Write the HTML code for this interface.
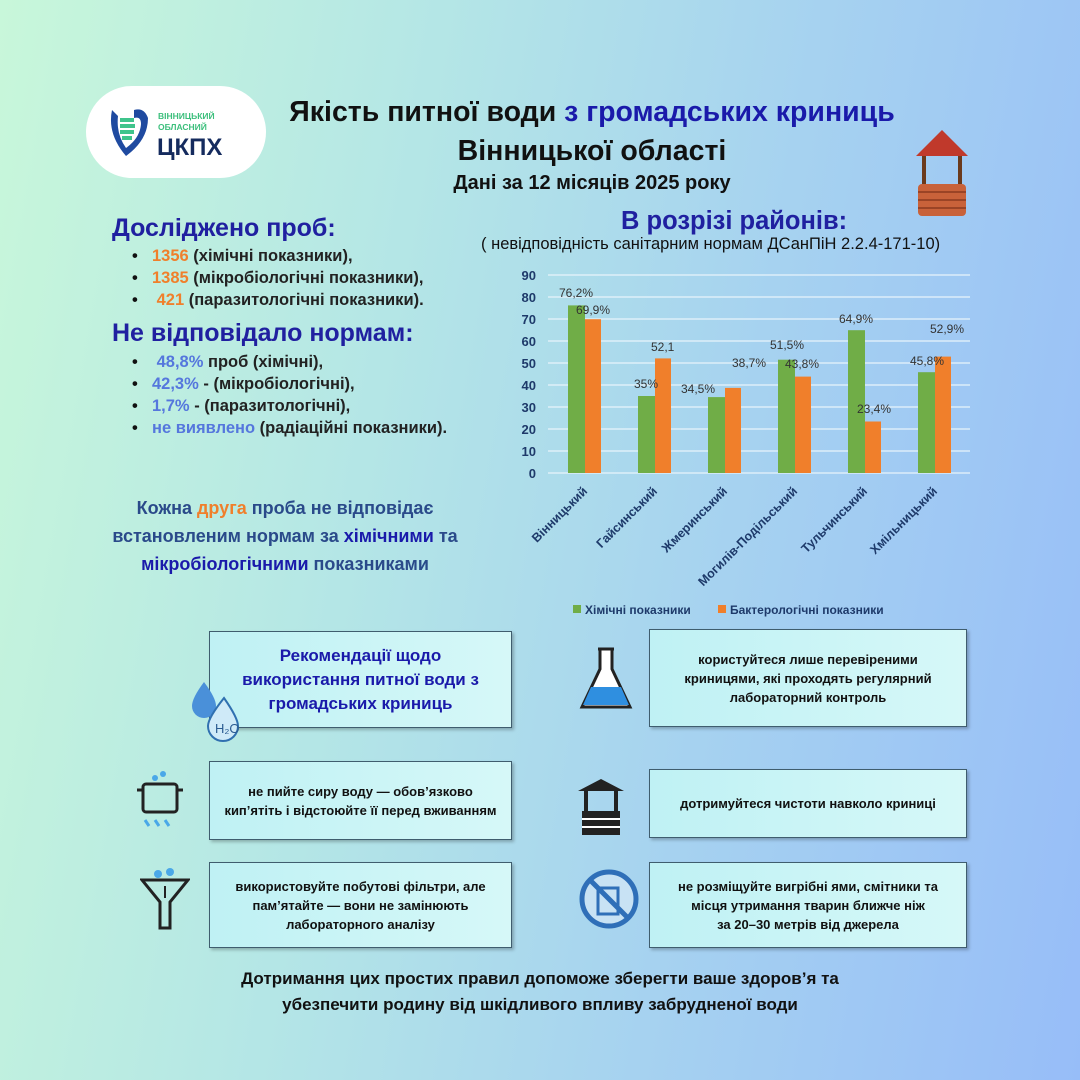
<!DOCTYPE html>
<html><head><meta charset="utf-8"><style>
*{margin:0;padding:0;box-sizing:border-box}
body{width:1080px;height:1080px;overflow:hidden;font-family:"Liberation Sans","DejaVu Sans",sans-serif;background:linear-gradient(100deg,#c8f7da 0%,#b4e6e6 35%,#a6d2f0 65%,#97bdf8 100%);position:relative}
.a{position:absolute}
.t{font-weight:bold;text-align:center}
.box{position:absolute;border:1.5px solid #3f5d6e;background:linear-gradient(90deg,#bff1f4,#d6f8f8);display:flex;align-items:center;justify-content:center;text-align:center;font-weight:bold;color:#111;font-size:13px;line-height:19px;box-shadow:2px 2px 3px rgba(0,0,0,.25)}
ul{list-style:none}
li{position:relative;padding-left:24px;font-size:16.5px;font-weight:bold;color:#222;height:22px}
li:before{content:"•";position:absolute;left:4px;color:#111}
.o{color:#f07f2b}.b{color:#5577dd}
h2{font-size:25px;color:#2020a0;font-weight:bold}
</style></head><body>
<div class="a" style="left:86px;top:86px;width:180px;height:92px;border-radius:46px;background:#fff"></div>
<svg class="a" style="left:104px;top:104px" width="50" height="56" viewBox="0 0 50 56"><path d="M8 6 Q3 30 22 52 Q44 36 44 14 Q40 3 30 6 L30 14 Q37 12 37 20 Q36 34 22 44 Q12 30 14 12Z" fill="#1f4aa0"/><path d="M16 16h14M16 22h15M16 28h14M18 34h10" stroke="#3fc48c" stroke-width="4"/></svg>
<div class="a" style="left:158px;top:111px;font-size:8.5px;font-weight:bold;color:#3cbf7c;line-height:11px">ВІННИЦЬКИЙ<br>ОБЛАСНИЙ</div>
<div class="a" style="left:157px;top:134px;font-size:24px;font-weight:bold;color:#152b5e">ЦКПХ</div>
<div class="a t" style="left:200px;top:96px;width:784px;font-size:28.5px;color:#111">Якість питної води <span style="color:#1a1aaa">з громадських криниць</span></div>
<div class="a t" style="left:200px;top:135px;width:784px;font-size:28.5px;color:#111">Вінницької області</div>
<div class="a t" style="left:200px;top:172px;width:784px;font-size:20px;color:#111">Дані за 12 місяців 2025 року</div>
<svg class="a" style="left:912px;top:126px" width="60" height="92"><path d="M4 30 L30 4 L56 30Z" fill="#c0392b"/><rect x="10" y="30" width="4" height="30" fill="#6b3a1c"/><rect x="46" y="30" width="4" height="30" fill="#6b3a1c"/><rect x="6" y="58" width="48" height="32" rx="4" fill="#c8623a"/><path d="M6 66h48M6 74h48M6 82h48" stroke="#8a3a20" stroke-width="1.5"/></svg>
<h2 class="a" style="left:112px;top:214px">Досліджено проб:</h2>
<ul class="a" style="left:128px;top:247px"><li><span class="o">1356</span> (хімічні показники),</li><li><span class="o">1385</span> (мікробіологічні показники),</li><li>&nbsp;<span class="o">421</span> (паразитологічні показники).</li></ul>
<h2 class="a" style="left:112px;top:319px">Не відповідало нормам:</h2>
<ul class="a" style="left:128px;top:353px"><li>&nbsp;<span class="b">48,8%</span> проб (хімічні),</li><li><span class="b">42,3%</span> - (мікробіологічні),</li><li><span class="b">1,7%</span> - (паразитологічні),</li><li><span class="b">не виявлено</span> (радіаційні показники).</li></ul>
<div class="a t" style="left:85px;top:494px;width:400px;font-size:18px;line-height:28px;color:#2a4a8a">Кожна <span class="o">друга</span> проба не відповідає встановленим нормам за <span style="color:#1a1aaa">хімічними</span> та <span style="color:#1a1aaa">мікробіологічними</span> показниками</div>
<h2 class="a" style="left:621px;top:207px;font-size:25.5px">В розрізі районів:</h2>
<div class="a" style="left:481px;top:235px;font-size:16.5px;color:#111">( невідповідність санітарним нормам ДСанПіН 2.2.4-171-10)</div>
<svg class="a" style="left:480px;top:260px" width="520" height="370" font-family="Liberation Sans,sans-serif">
<g stroke="#e8f4fb" stroke-width="1.3">
<line x1="68" x2="490" y1="15" y2="15"/><line x1="68" x2="490" y1="37" y2="37"/><line x1="68" x2="490" y1="59" y2="59"/><line x1="68" x2="490" y1="81" y2="81"/><line x1="68" x2="490" y1="103" y2="103"/><line x1="68" x2="490" y1="125" y2="125"/><line x1="68" x2="490" y1="147" y2="147"/><line x1="68" x2="490" y1="169" y2="169"/><line x1="68" x2="490" y1="191" y2="191"/><line x1="68" x2="490" y1="213" y2="213"/></g>
<g font-size="13" font-weight="bold" fill="#1e3a6a" text-anchor="end">
<text x="56" y="20">90</text><text x="56" y="42">80</text><text x="56" y="64">70</text><text x="56" y="86">60</text><text x="56" y="108">50</text><text x="56" y="130">40</text><text x="56" y="152">30</text><text x="56" y="174">20</text><text x="56" y="196">10</text><text x="56" y="218">0</text></g>
<g fill="#70ad47"><rect x="88" y="45.4" width="17" height="167.6"/><rect x="158" y="136" width="17" height="77"/><rect x="228" y="137.1" width="17" height="75.9"/><rect x="298" y="99.7" width="17" height="113.3"/><rect x="368" y="70.2" width="17" height="142.8"/><rect x="438" y="112.2" width="17" height="100.8"/></g>
<g fill="#f07f2b"><rect x="105" y="59.2" width="16" height="153.8"/><rect x="175" y="98.4" width="16" height="114.6"/><rect x="245" y="127.9" width="16" height="85.1"/><rect x="315" y="116.6" width="16" height="96.4"/><rect x="385" y="161.5" width="16" height="51.5"/><rect x="455" y="96.6" width="16" height="116.4"/></g>
<g font-size="12" fill="#333">
<text x="79" y="37">76,2%</text><text x="96" y="54">69,9%</text><text x="154" y="128">35%</text><text x="171" y="91">52,1</text><text x="201" y="133">34,5%</text><text x="252" y="107">38,7%</text><text x="290" y="89">51,5%</text><text x="305" y="108">43,8%</text><text x="359" y="63">64,9%</text><text x="377" y="153">23,4%</text><text x="430" y="105">45,8%</text><text x="450" y="73">52,9%</text></g>
<g font-size="12.5" font-weight="bold" fill="#1e3a6a" text-anchor="end">
<text transform="translate(108,232) rotate(-45)">Вінницький</text><text transform="translate(178,232) rotate(-45)">Гайсинський</text><text transform="translate(248,232) rotate(-45)">Жмеринський</text><text transform="translate(318,232) rotate(-45)">Могилів-Подільський</text><text transform="translate(388,232) rotate(-45)">Тульчинський</text><text transform="translate(458,232) rotate(-45)">Хмільницький</text></g>
<rect x="93" y="345" width="8" height="8" fill="#70ad47"/><text x="105" y="354" font-size="12" font-weight="bold" fill="#1e3a6a">Хімічні показники</text>
<rect x="238" y="345" width="8" height="8" fill="#f07f2b"/><text x="250" y="354" font-size="12" font-weight="bold" fill="#1e3a6a">Бактерологічні показники</text>
</svg>
<div class="box" style="left:209px;top:631px;width:303px;height:97px;font-size:17px;line-height:24px;color:#1a1aaa">Рекомендації щодо<br>використання питної води з<br>громадських криниць</div>
<svg class="a" style="left:188px;top:680px" width="60" height="62"><path d="M16 2 Q4 18 4 26 A12 12 0 0 0 28 26 Q28 18 16 2Z" fill="#4a90d9"/><path d="M36 18 Q20 38 20 46 A15 15 0 0 0 50 46 Q50 38 36 18Z" fill="#cfeaf8" stroke="#3070b0" stroke-width="2"/><text x="27" y="53" font-size="13" fill="#2a5a90">H₂O</text></svg>
<div class="box" style="left:649px;top:629px;width:318px;height:98px">користуйтеся лише перевіреними<br>криницями, які проходять регулярний<br>лабораторний контроль</div>
<svg class="a" style="left:578px;top:645px" width="56" height="68"><path d="M20 4h16M22 4v20L4 62h48L34 24V4" fill="#fff" stroke="#222" stroke-width="3"/><path d="M13 42h30l8 18H5z" fill="#2f8fe0"/></svg>
<div class="box" style="left:209px;top:761px;width:303px;height:79px">не пийте сиру воду — обов’язково<br>кип’ятіть і відстоюйте її перед вживанням</div>
<svg class="a" style="left:135px;top:768px" width="50" height="62"><rect x="8" y="16" width="34" height="28" rx="3" fill="none" stroke="#222" stroke-width="3"/><path d="M2 22h6M42 22h6" stroke="#222" stroke-width="3"/><circle cx="20" cy="10" r="3" fill="#4aa8e8"/><circle cx="28" cy="6" r="3" fill="#4aa8e8"/><path d="M10 52l4 6M20 52l4 6M30 52l4 6" stroke="#4aa8e8" stroke-width="3"/></svg>
<div class="box" style="left:649px;top:769px;width:318px;height:69px">дотримуйтеся чистоти навколо криниці</div>
<svg class="a" style="left:576px;top:775px" width="50" height="62"><path d="M2 16L25 4 48 16Z" fill="#222"/><rect x="8" y="16" width="4" height="20" fill="#222"/><rect x="38" y="16" width="4" height="20" fill="#222"/><rect x="6" y="36" width="38" height="24" fill="#222"/><path d="M6 44h38M6 52h38" stroke="#fff" stroke-width="2"/></svg>
<div class="box" style="left:209px;top:862px;width:303px;height:86px">використовуйте побутові фільтри, але<br>пам’ятайте — вони не замінюють<br>лабораторного аналізу</div>
<svg class="a" style="left:140px;top:866px" width="50" height="70"><path d="M2 14h46L30 36v26h-10V36Z" fill="none" stroke="#222" stroke-width="3"/><circle cx="18" cy="8" r="4" fill="#4aa8e8"/><circle cx="30" cy="6" r="4" fill="#4aa8e8"/><path d="M25 20v12" stroke="#222" stroke-width="2"/></svg>
<div class="box" style="left:649px;top:862px;width:318px;height:86px">не розміщуйте вигрібні ями, смітники та<br>місця утримання тварин ближче ніж<br>за 20–30 метрів від джерела</div>
<svg class="a" style="left:578px;top:868px" width="62" height="62"><circle cx="31" cy="31" r="27" fill="#c8e2f4" stroke="#2f6fb8" stroke-width="5"/><rect x="20" y="20" width="20" height="26" fill="none" stroke="#2f6fb8" stroke-width="3"/><path d="M12 12L50 50" stroke="#2f6fb8" stroke-width="5"/></svg>
<div class="a t" style="left:180px;top:966px;width:720px;font-size:17px;line-height:26px;color:#111">Дотримання цих простих правил допоможе зберегти ваше здоров’я та<br>убезпечити родину від шкідливого впливу забрудненої води</div>
</body></html>
